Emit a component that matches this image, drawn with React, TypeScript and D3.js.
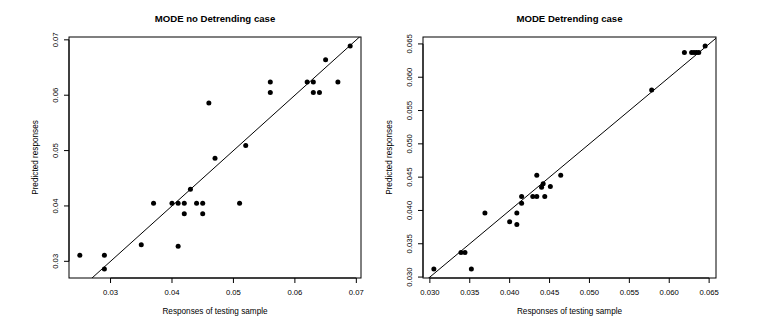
import React, { useEffect, useRef } from 'react';
import * as d3 from 'd3';

// Left panel: MODE no Detrending case
const noDetrendActual = [
  0.069, 0.065, 0.067, 0.062, 0.063, 0.063, 0.064, 0.056, 0.056, 0.046, 0.052, 0.047,
  0.043, 0.037, 0.040, 0.041, 0.042, 0.044, 0.045, 0.051, 0.042, 0.045, 0.035, 0.041,
  0.025, 0.029, 0.029,
];
const noDetrendPredicted = [
  0.0689, 0.0664, 0.0624, 0.0624, 0.0624, 0.0605, 0.0605, 0.0624, 0.0605, 0.0586, 0.0509, 0.0486,
  0.043, 0.0405, 0.0405, 0.0405, 0.0405, 0.0405, 0.0405, 0.0405, 0.0386, 0.0386, 0.033, 0.0327,
  0.0311, 0.0311, 0.0286,
];
const noDetrendTicks = [0.03, 0.04, 0.05, 0.06, 0.07];
const noDetrendTickLabels = ['0.03', '0.04', '0.05', '0.06', '0.07'];

// Right panel: MODE Detrending case
const detrendActual = [
  0.0645, 0.0619, 0.0628, 0.0631, 0.0634, 0.0637, 0.0578,
  0.0434, 0.0464, 0.0451, 0.0442, 0.0440, 0.0415, 0.0429, 0.0434, 0.0444, 0.0415,
  0.0369, 0.0409, 0.0400, 0.0409, 0.0339, 0.0344, 0.0305, 0.0352,
];
const detrendPredicted = [
  0.0647, 0.0637, 0.0637, 0.0637, 0.0637, 0.0637, 0.0581,
  0.0453, 0.0453, 0.0436, 0.0440, 0.0435, 0.0421, 0.0421, 0.0421, 0.0421, 0.0411,
  0.0396, 0.0396, 0.0383, 0.0379, 0.0337, 0.0337, 0.0312, 0.0312,
];
const detrendTicks = [0.030, 0.035, 0.040, 0.045, 0.050, 0.055, 0.060, 0.065];
const detrendTickLabels = ['0.030', '0.035', '0.040', '0.045', '0.050', '0.055', '0.060', '0.065'];

const panels = [
  {
    id: 'left',
    title: 'MODE no Detrending case',
    actual: noDetrendActual,
    predicted: noDetrendPredicted,
    ticks: noDetrendTicks,
    labels: noDetrendTickLabels,
    box: { x0: 69, x1: 361, y0: 37, y1: 278 },
  },
  {
    id: 'right',
    title: 'MODE Detrending case',
    actual: detrendActual,
    predicted: detrendPredicted,
    ticks: detrendTicks,
    labels: detrendTickLabels,
    box: { x0: 423, x1: 716, y0: 37, y1: 278 },
  },
];

// R style axis range: data extent padded by 4%
const rRange = (vals: number[]) => {
  const [lo, hi] = d3.extent(vals) as [number, number];
  const pad = (hi - lo) * 0.04;
  return [lo - pad, hi + pad];
};

const FONT = 'Liberation Sans, Arial, sans-serif';

export default function App() {
  const svgRef = useRef<SVGSVGElement>(null);

  useEffect(() => {
    const svg = d3.select(svgRef.current);
    svg.selectAll('*').remove();

    svg.append('rect').attr('width', 774).attr('height', 329).attr('fill', '#fff');

    panels.forEach(p => {
      const { x0, x1, y0, y1 } = p.box;
      const x = d3.scaleLinear().domain(rRange(p.actual)).range([x0, x1]);
      const y = d3.scaleLinear().domain(rRange(p.predicted)).range([y1, y0]);
      const g = svg.append('g').style('font-family', FONT);

      // clip for the y = x reference line
      g.append('clipPath')
        .attr('id', `clip-${p.id}`)
        .append('rect')
        .attr('x', x0).attr('y', y0)
        .attr('width', x1 - x0).attr('height', y1 - y0);

      const lo = Math.min(x.domain()[0], y.domain()[0]);
      const hi = Math.max(x.domain()[1], y.domain()[1]);
      g.append('line')
        .attr('clip-path', `url(#clip-${p.id})`)
        .attr('x1', x(lo)).attr('y1', y(lo))
        .attr('x2', x(hi)).attr('y2', y(hi))
        .attr('stroke', '#000')
        .attr('stroke-width', 1);

      // points
      g.selectAll('circle')
        .data(p.actual.map((a, i) => ({ a, b: p.predicted[i] })))
        .enter().append('circle')
        .attr('cx', d => x(d.a))
        .attr('cy', d => y(d.b))
        .attr('r', 2.5)
        .attr('fill', '#000');

      // box
      g.append('rect')
        .attr('x', x0).attr('y', y0)
        .attr('width', x1 - x0).attr('height', y1 - y0)
        .attr('fill', 'none')
        .attr('stroke', '#000')
        .attr('stroke-width', 1);

      // x axis
      const xAxis = g.append('g').attr('transform', `translate(0,${y1})`);
      xAxis.append('line')
        .attr('x1', x(p.ticks[0])).attr('x2', x(p.ticks[p.ticks.length - 1]))
        .attr('stroke', '#000');
      p.ticks.forEach((t, i) => {
        xAxis.append('line')
          .attr('x1', x(t)).attr('x2', x(t)).attr('y1', 0).attr('y2', 5)
          .attr('stroke', '#000');
        xAxis.append('text')
          .attr('x', x(t)).attr('y', 14.7)
          .attr('text-anchor', 'middle')
          .attr('dominant-baseline', 'central')
          .style('font-size', '7.7px')
          .text(p.labels[i]);
      });

      // y axis
      const yAxis = g.append('g').attr('transform', `translate(${x0},0)`);
      yAxis.append('line')
        .attr('y1', y(p.ticks[0])).attr('y2', y(p.ticks[p.ticks.length - 1]))
        .attr('stroke', '#000');
      p.ticks.forEach((t, i) => {
        yAxis.append('line')
          .attr('y1', y(t)).attr('y2', y(t)).attr('x1', 0).attr('x2', -5)
          .attr('stroke', '#000');
        yAxis.append('text')
          .attr('transform', `translate(-14,${y(t)}) rotate(-90)`)
          .attr('text-anchor', 'middle')
          .attr('dominant-baseline', 'central')
          .style('font-size', '7.7px')
          .text(p.labels[i]);
      });

      // titles
      const cx = (x0 + x1) / 2;
      const cy = (y0 + y1) / 2;
      g.append('text')
        .attr('x', cx).attr('y', 18)
        .attr('text-anchor', 'middle')
        .attr('dominant-baseline', 'central')
        .style('font-size', '9.6px')
        .style('font-weight', 'bold')
        .text(p.title);
      g.append('text')
        .attr('x', cx).attr('y', y1 + 33.7)
        .attr('text-anchor', 'middle')
        .attr('dominant-baseline', 'central')
        .style('font-size', '8.2px')
        .text('Responses of testing sample');
      g.append('text')
        .attr('transform', `translate(${x0 - 34},${cy}) rotate(-90)`)
        .attr('text-anchor', 'middle')
        .attr('dominant-baseline', 'central')
        .style('font-size', '8.2px')
        .text('Predicted responses');
    });
  }, []);

  return (
    <svg
      ref={svgRef}
      width={774}
      height={329}
      style={{ position: 'absolute', left: 0, top: 0 }}
    />
  );
}
